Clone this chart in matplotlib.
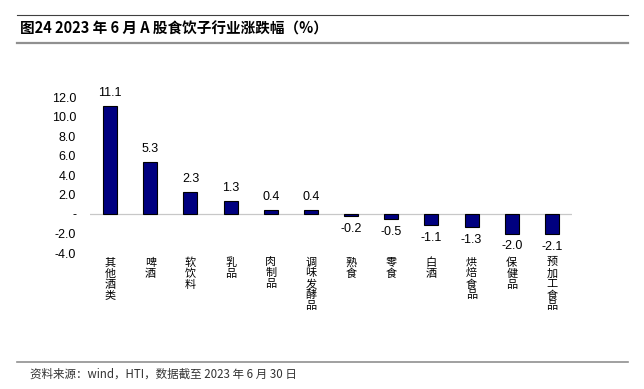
import matplotlib.pyplot as plt
from matplotlib.lines import Line2D

plt.rcParams['font.family'] = ['Liberation Sans', 'Noto Sans CJK SC', 'DejaVu Sans']

categories = ["其他酒类", "啤酒", "软饮料", "乳品", "肉制品", "调味发酵品",
              "熟食", "零食", "白酒", "烘焙食品", "保健品", "预加工食品"]
values = [11.1, 5.3, 2.3, 1.3, 0.4, 0.4, -0.2, -0.5, -1.1, -1.3, -2.0, -2.1]
yticks = [-4, -2, 0, 2, 4, 6, 8, 10, 12]
yticklabels = ["-4.0", "-2.0", "-", "2.0", "4.0", "6.0", "8.0", "10.0", "12.0"]

fig = plt.figure(figsize=(6.44, 3.89), dpi=100)
ax = fig.add_axes([0.1398, 0.3496, 0.7484, 0.401])

x = range(len(categories))
ax.bar(x, values, width=0.35, color="#000080", edgecolor="black", linewidth=0.8, zorder=3)
ax.axhline(0, color="#c8c8c8", linewidth=0.9, zorder=2)

for i, v in enumerate(values):
    if v >= 0:
        ax.annotate(f"{v:.1f}", (i, v), xytext=(0, 5), textcoords="offset points",
                    ha="center", va="bottom", fontsize=9)
    else:
        ax.annotate(f"{v:.1f}", (i, v), xytext=(0, -5), textcoords="offset points",
                    ha="center", va="top", fontsize=9)
    ax.text(i, -4.45, "\n".join(categories[i]), ha="center", va="top", fontsize=8,
            family=['Noto Sans CJK SC'], linespacing=1.1)

ax.set_xlim(-0.5, len(categories) - 0.5)
ax.set_ylim(-4, 12)
ax.set_yticks(yticks)
ax.set_yticklabels(yticklabels, fontsize=9)
ax.set_xticks([])
ax.tick_params(axis="y", length=0, pad=10)
for s in ax.spines.values():
    s.set_visible(False)

# 标题与横线
fig.add_artist(Line2D([17 / 644, 628 / 644], [1 - 15 / 389] * 2, color="#404040", linewidth=0.8))
fig.add_artist(Line2D([17 / 644, 628 / 644], [1 - 43 / 389] * 2, color="#909090", linewidth=1.6))
fig.text(20 / 644, 1 - 29 / 389, "图24 2023 年 6 月 A 股食饮子行业涨跌幅（%）", fontsize=10.5,
         fontweight="bold", va="center", ha="left", family=['Noto Sans CJK SC'])

fig.add_artist(Line2D([17 / 644, 628 / 644], [1 - 362 / 389] * 2, color="#909090", linewidth=1.2))
fig.text(30 / 644, 1 - 374 / 389, "资料来源：wind，HTI，数据截至 2023 年 6 月 30 日", fontsize=8.3,
         va="center", ha="left", color="#333333", family=['Noto Sans CJK SC'])

plt.savefig("out.png", dpi=100)
